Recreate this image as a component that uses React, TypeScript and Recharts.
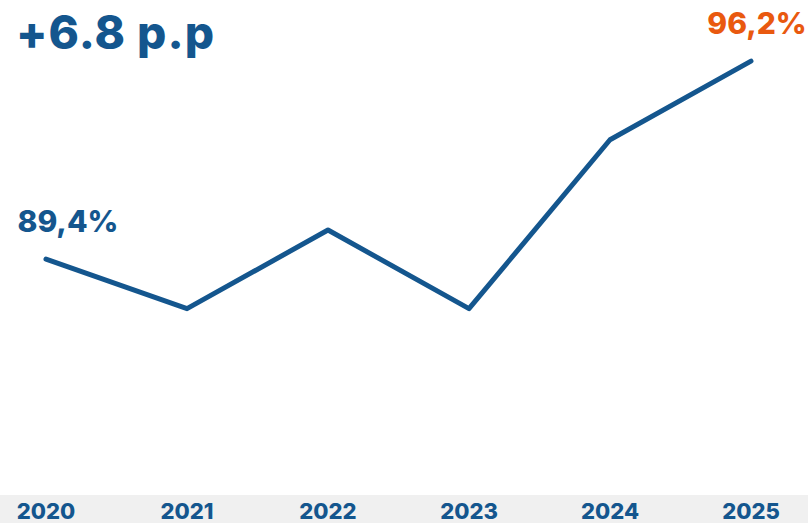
import { LineChart, Line, XAxis, YAxis, LabelList } from "recharts";

const years = ["2020", "2021", "2022", "2023", "2024", "2025"];
const rates = [89.4, 87.7, 90.4, 87.7, 93.5, 96.2];
const rateLabels = ["89,4%", "", "", "", "", "96,2%"];
const headline = "+6.8 p.p";

const blue = "#14568E";
const orange = "#E9590F";
const font = "Inter, 'Open Sans', sans-serif";

const data = years.map((year, i) => ({ year, rate: rates[i], label: rateLabels[i] }));

const YearTick = (props: any) => {
  const { x, payload } = props;
  return (
    <text x={x} y={519} textAnchor="middle" fill={blue} fontSize={22} fontWeight={800} fontFamily={font}>
      {payload.value}
    </text>
  );
};

const EndLabel = (props: any) => {
  const { x, y, index } = props;
  const text = rateLabels[index];
  if (!text) return null;
  const last = index === rateLabels.length - 1;
  return (
    <text
      x={last ? x + 6 : x + 22}
      y={y - 27}
      textAnchor="middle"
      fill={last ? orange : blue}
      fontSize={30}
      fontWeight={800}
      fontFamily={font}
    >
      {text}
    </text>
  );
};

export default function App() {
  return (
    <div style={{ position: "absolute", left: 0, top: 0, width: 808, height: 523, background: "#fff" }}>
      <div style={{ position: "absolute", left: 0, top: 495, width: 808, height: 28, background: "#F0F0F0" }} />
      <div
        style={{
          position: "absolute",
          left: 16,
          top: 2,
          fontFamily: font,
          fontWeight: 800,
          fontSize: 46,
          color: blue,
          lineHeight: "60px",
          letterSpacing: 1,
        }}
      >
        {headline}
      </div>
      <div style={{ position: "absolute", left: 0, top: 0 }}>
        <LineChart width={808} height={523} data={data} margin={{ top: 0, right: 57, bottom: 0, left: 46 }}>
          <XAxis
            dataKey="year"
            height={28}
            axisLine={false}
            tickLine={false}
            interval={0}
            tick={<YearTick />}
          />
          <YAxis hide domain={[81.3, 98.3]} />
          <Line
            type="linear"
            dataKey="rate"
            stroke={blue}
            strokeWidth={5}
            strokeLinecap="round"
            strokeLinejoin="round"
            dot={false}
            isAnimationActive={false}
          >
            <LabelList dataKey="label" content={<EndLabel />} />
          </Line>
        </LineChart>
      </div>
    </div>
  );
}
